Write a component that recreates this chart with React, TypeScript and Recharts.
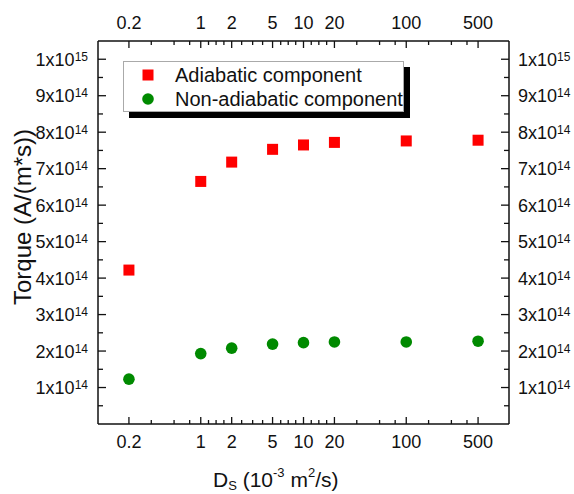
import { ScatterChart, Scatter, XAxis, YAxis } from 'recharts'

const dsValues = [0.2, 1, 2, 5, 10, 20, 100, 500]
const adiabatic = [4.22e14, 6.65e14, 7.18e14, 7.53e14, 7.65e14, 7.72e14, 7.76e14, 7.78e14]
const nonAdiabatic = [1.23e14, 1.93e14, 2.08e14, 2.19e14, 2.23e14, 2.25e14, 2.25e14, 2.27e14]

const xMajorTicks = [0.2, 1, 2, 5, 10, 20, 100, 500]
const xMinorTicks = [0.33, 0.55, 0.78, 1.19, 1.41, 1.68, 2.5, 3.2, 4, 6, 7.1, 8.4, 11.9, 14.1, 16.8, 33, 55, 78, 165, 275, 390]
const yMajorTicks = [1e14, 2e14, 3e14, 4e14, 5e14, 6e14, 7e14, 8e14, 9e14, 1e15]
const yMinorTicks = [0.5e14, 1.5e14, 2.5e14, 3.5e14, 4.5e14, 5.5e14, 6.5e14, 7.5e14, 8.5e14, 9.5e14]

const seriesNames = ['Adiabatic component', 'Non-adiabatic component']
const RED = '#ff0000'
const GREEN = '#008a00'
const INK = '#111'
const FONT = '"Liberation Sans", Arial, sans-serif'

const adiabaticRows = dsValues.map((x, i) => ({ x, y: adiabatic[i] }))
const nonAdiabaticRows = dsValues.map((x, i) => ({ x, y: nonAdiabatic[i] }))
const xTicks = [...xMajorTicks, ...xMinorTicks].sort((a, b) => a - b)
const yTicks = [...yMajorTicks, ...yMinorTicks].sort((a, b) => a - b)

function makeXTick(side: 'top' | 'bottom') {
  return function XTick(props: any) {
    const { x, y, payload } = props
    const major = xMajorTicks.includes(payload.value)
    const dir = side === 'bottom' ? -1 : 1
    const len = major ? 7 : 4
    return (
      <g>
        <line x1={x} x2={x} y1={y} y2={y + dir * len} stroke={INK} strokeWidth={1.3} />
        {major && (
          <text
            x={x}
            y={side === 'bottom' ? y + 24 : y - 12}
            textAnchor="middle"
            fontSize={18}
            fontFamily={FONT}
            fill={INK}
          >
            {payload.value}
          </text>
        )}
      </g>
    )
  }
}

function makeYTick(side: 'left' | 'right') {
  return function YTick(props: any) {
    const { x, y, payload } = props
    const major = yMajorTicks.includes(payload.value)
    const dir = side === 'left' ? 1 : -1
    const len = major ? 8 : 5
    const n = payload.value / 1e14
    const mant = n >= 10 ? '1' : String(Math.round(n))
    const exp = n >= 10 ? '15' : '14'
    return (
      <g>
        <line x1={x} x2={x + dir * len} y1={y} y2={y} stroke={INK} strokeWidth={1.3} />
        {major && (
          <text
            x={side === 'left' ? x - 10 : x + 9}
            y={y + 6.5}
            textAnchor={side === 'left' ? 'end' : 'start'}
            fontSize={18}
            fontFamily={FONT}
            fill={INK}
          >
            <tspan>{mant}x10</tspan>
            <tspan dy={-5} fontSize={12}>{exp}</tspan>
          </text>
        )}
      </g>
    )
  }
}

const squareShape = (p: any) => <rect x={p.cx - 5.5} y={p.cy - 5.5} width={11} height={11} fill={RED} />
const circleShape = (p: any) => <circle cx={p.cx} cy={p.cy} r={5.8} fill={GREEN} />

export default function App() {
  return (
    <div style={{ position: 'absolute', left: 0, top: 0, width: 574, height: 494, background: '#fff' }}>
      <ScatterChart width={574} height={494} margin={{ top: 0, right: 0, bottom: 0, left: 0 }}>
        <XAxis
          xAxisId="bottom"
          dataKey="x"
          type="number"
          scale="log"
          domain={[0.1, 1000]}
          allowDataOverflow
          ticks={xTicks}
          interval={0}
          height={70}
          tickSize={0}
          tickMargin={0}
          tickLine={false}
          tick={makeXTick('bottom')}
          axisLine={{ stroke: INK, strokeWidth: 1.5 }}
        />
        <XAxis
          xAxisId="top"
          orientation="top"
          dataKey="x"
          type="number"
          scale="log"
          domain={[0.1, 1000]}
          allowDataOverflow
          ticks={xTicks}
          interval={0}
          height={41}
          tickSize={0}
          tickMargin={0}
          tickLine={false}
          tick={makeXTick('top')}
          axisLine={{ stroke: INK, strokeWidth: 1.5 }}
        />
        <YAxis
          yAxisId="left"
          dataKey="y"
          type="number"
          domain={[0, 1.05e15]}
          allowDataOverflow
          ticks={yTicks}
          interval={0}
          width={98}
          tickSize={0}
          tickMargin={0}
          tickLine={false}
          tick={makeYTick('left')}
          axisLine={{ stroke: INK, strokeWidth: 1.5 }}
        />
        <YAxis
          yAxisId="right"
          orientation="right"
          dataKey="y"
          type="number"
          domain={[0, 1.05e15]}
          allowDataOverflow
          ticks={yTicks}
          interval={0}
          width={65}
          tickSize={0}
          tickMargin={0}
          tickLine={false}
          tick={makeYTick('right')}
          axisLine={{ stroke: INK, strokeWidth: 1.5 }}
        />
        <Scatter
          name={seriesNames[0]}
          data={adiabaticRows}
          xAxisId="bottom"
          yAxisId="left"
          shape={squareShape}
          isAnimationActive={false}
        />
        <Scatter
          name={seriesNames[1]}
          data={nonAdiabaticRows}
          xAxisId="top"
          yAxisId="right"
          shape={circleShape}
          isAnimationActive={false}
        />
      </ScatterChart>
      <svg
        width={574}
        height={494}
        style={{ position: 'absolute', left: 0, top: 0, pointerEvents: 'none' }}
        fontFamily={FONT}
        fill={INK}
      >
        {/* legend box with offset shadow */}
        <rect x={129} y={67} width={281} height={51} fill="#000" />
        <rect x={123.5} y={61.5} width={280} height={50} fill="#fff" stroke="#aaa" strokeWidth={1} />
        <rect x={142.5} y={69.5} width={11} height={11} fill={RED} />
        <text x={175} y={82} fontSize={20}>{seriesNames[0]}</text>
        <circle cx={148} cy={99} r={5.8} fill={GREEN} />
        <text x={175} y={106} fontSize={20}>{seriesNames[1]}</text>

        <text x={213} y={487} fontSize={21}>
          <tspan>D</tspan>
          <tspan dy={3} fontSize={13}>S</tspan>
          <tspan dy={-3}> (10</tspan>
          <tspan dy={-10} fontSize={13}>-3</tspan>
          <tspan dy={10}> m</tspan>
          <tspan dy={-10} fontSize={13}>2</tspan>
          <tspan dy={10}>/s)</tspan>
        </text>
        <text x={31} y={217} fontSize={24} textAnchor="middle" transform="rotate(-90 31 217)">
          Torque (A/(m*s))
        </text>
      </svg>
    </div>
  )
}
